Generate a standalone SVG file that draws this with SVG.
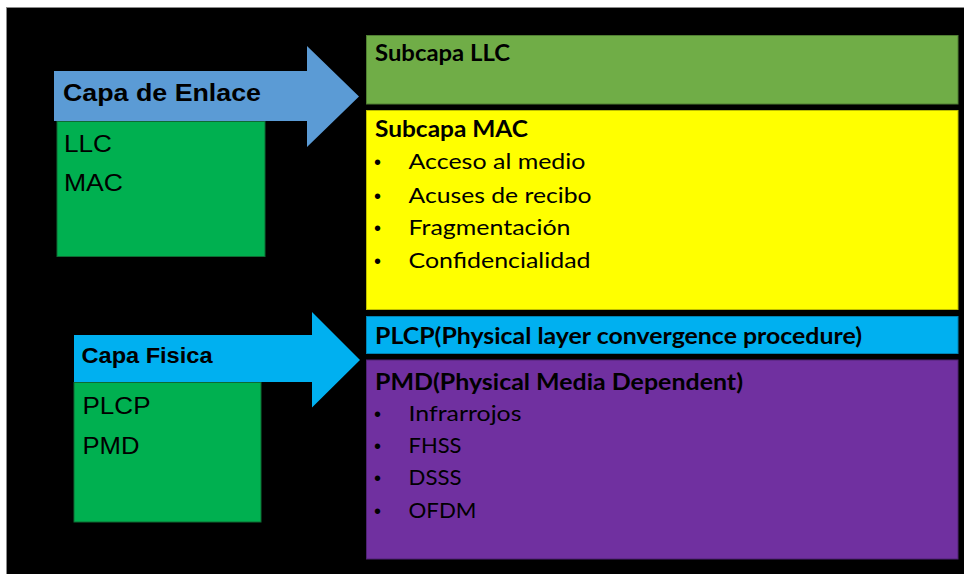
<svg xmlns="http://www.w3.org/2000/svg" width="964" height="574" viewBox="0 0 964 574">
  <style>
    .lt { font-family: "Liberation Sans", Arial, sans-serif; fill: #000; }
    .lb { font-family: "Liberation Sans", Arial, sans-serif; font-weight: bold; fill: #000; }
    .rt { font-family: Lato, "Open Sans", sans-serif; fill: #000; font-size: 22px; }
    .rb { font-family: Lato, "Open Sans", sans-serif; font-weight: bold; fill: #000; font-size: 22px; }
    .bul { font-family: "Liberation Sans", Arial, sans-serif; fill: #000; font-size: 20px; }
    .gbox { fill: #00B050; stroke: #0E6B33; stroke-width: 1; }
  </style>
  <rect x="0" y="0" width="964" height="574" fill="#ffffff"/>
  <rect x="6.5" y="7.5" width="958" height="567" fill="#000000" stroke="#8a8a8a" stroke-width="1"/>

  <g id="connectors">
    <polygon id="arrow-enlace" points="54,71 307,71 307,46 359,96.5 307,147 307,121 54,121" fill="#5B9BD5"/>
    <polygon id="arrow-fisica" points="74,335 312,335 312,312 360,360 312,407.5 312,382 74,382" fill="#00B0F0"/>
  </g>

  <g id="capa-enlace">
    <text class="lb" x="63" y="101" font-size="24" textLength="198" lengthAdjust="spacingAndGlyphs">Capa de Enlace</text>
  </g>
  <g id="enlace-box">
    <rect class="gbox" x="57" y="121.5" width="208" height="135"/>
    <text class="lt" x="64" y="152" font-size="24" textLength="48" lengthAdjust="spacingAndGlyphs">LLC</text>
    <text class="lt" x="64" y="191" font-size="24" textLength="59" lengthAdjust="spacingAndGlyphs">MAC</text>
  </g>

  <g id="capa-fisica">
    <text class="lb" x="81.5" y="362.5" font-size="22.5" textLength="131" lengthAdjust="spacingAndGlyphs">Capa Fisica</text>
  </g>
  <g id="fisica-box">
    <rect class="gbox" x="74" y="382.5" width="187" height="139.5"/>
    <text class="lt" x="82.5" y="414" font-size="24" textLength="68" lengthAdjust="spacingAndGlyphs">PLCP</text>
    <text class="lt" x="82.5" y="453.5" font-size="24" textLength="57" lengthAdjust="spacingAndGlyphs">PMD</text>
  </g>

  <g id="subcapa-llc">
    <rect x="366.5" y="35.5" width="591.5" height="68.5" fill="#70AD47" stroke="#507E32" stroke-width="1"/>
    <text class="rb" x="375" y="61" textLength="135" lengthAdjust="spacingAndGlyphs">Subcapa LLC</text>
  </g>

  <g id="subcapa-mac">
    <rect x="366.5" y="110.5" width="591.5" height="199" fill="#FFFF00" stroke="#BDBD00" stroke-width="1"/>
    <text class="rb" x="375" y="137" textLength="153" lengthAdjust="spacingAndGlyphs">Subcapa MAC</text>
    <text class="bul" x="374" y="169">•</text>
    <text class="rt" x="408.5" y="169" textLength="177" lengthAdjust="spacingAndGlyphs">Acceso al medio</text>
    <text class="bul" x="374" y="202.5">•</text>
    <text class="rt" x="408.5" y="202.5" textLength="183" lengthAdjust="spacingAndGlyphs">Acuses de recibo</text>
    <text class="bul" x="374" y="235">•</text>
    <text class="rt" x="408.5" y="235" textLength="162" lengthAdjust="spacingAndGlyphs">Fragmentación</text>
    <text class="bul" x="374" y="267.5">•</text>
    <text class="rt" x="408.5" y="267.5" textLength="182" lengthAdjust="spacingAndGlyphs">Confidencialidad</text>
  </g>

  <g id="plcp">
    <rect x="366.5" y="316.5" width="591.5" height="37" fill="#00B0F0" stroke="#0083B3" stroke-width="1"/>
    <text class="rb" x="375" y="343.5" textLength="487" lengthAdjust="spacingAndGlyphs">PLCP(Physical layer convergence procedure)</text>
  </g>

  <g id="pmd">
    <rect x="366.5" y="360" width="591.5" height="199" fill="#7030A0" stroke="#4E2272" stroke-width="1"/>
    <text class="rb" x="375" y="389.5" textLength="368" lengthAdjust="spacingAndGlyphs">PMD(Physical Media Dependent)</text>
    <text class="bul" x="374" y="420.5">•</text>
    <text class="rt" x="408.5" y="420.5" textLength="113" lengthAdjust="spacingAndGlyphs">Infrarrojos</text>
    <text class="bul" x="374" y="453">•</text>
    <text class="rt" x="408.5" y="453" textLength="53" lengthAdjust="spacingAndGlyphs">FHSS</text>
    <text class="bul" x="374" y="485">•</text>
    <text class="rt" x="408.5" y="485" textLength="53" lengthAdjust="spacingAndGlyphs">DSSS</text>
    <text class="bul" x="374" y="517.5">•</text>
    <text class="rt" x="408.5" y="517.5" textLength="68" lengthAdjust="spacingAndGlyphs">OFDM</text>
  </g>
</svg>
